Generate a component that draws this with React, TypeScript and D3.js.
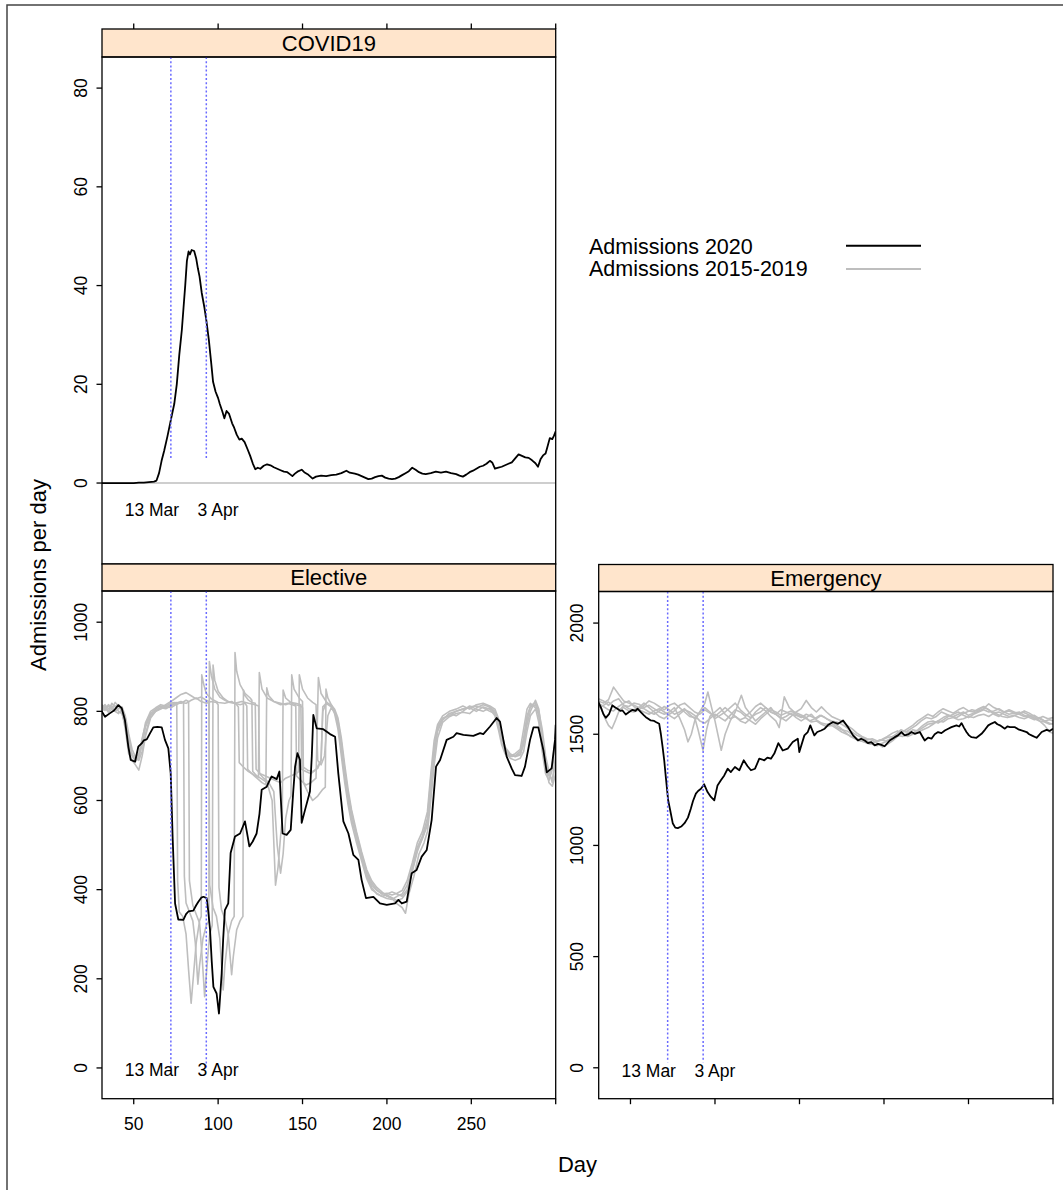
import React from 'react';
import * as d3 from 'd3';

type Pt = [number, number];

// ---------------- DATA ----------------
const xTicks = [50, 100, 150, 200, 250, 300];
const xTickLabels = ['50', '100', '150', '200', '250', ''];
const covidTicks = [0, 20, 40, 60, 80];
const electiveTicks = [0, 200, 400, 600, 800, 1000];
const emergencyTicks = [0, 500, 1000, 1500, 2000];
const lockdownDays = [72, 93];
const lockdownLabels = ['13 Mar', '3 Apr'];
const legendLabels = ['Admissions 2020', 'Admissions 2015-2019'];

const covid2020: Pt[] = [[31,0],[35,0],[40,0],[45,0],[50,0],[53,0.1],[56,0.1],[59,0.2],[62,0.3],[63.5,0.5],[65,2],[66.5,4.5],[68,6.5],[70,9.5],[72,12.8],[74,16],[75.5,20],[77,26],[78.5,31],[79.5,35.5],[80.5,40],[81.5,45],[82.5,46.9],[83.3,46.3],[84.3,47.2],[85.8,47],[87,45.5],[88,43.5],[89,41.8],[90.3,38.5],[91.9,35.5],[93,33],[94.5,29],[96,24],[97,20.5],[98.5,18.5],[100,17.2],[101,16],[102.5,14.5],[103.7,13.1],[105,14.6],[106.5,14],[108.3,12.1],[109.5,11.2],[111,9.8],[112.6,8.8],[114,9],[115.7,8.3],[117.5,6.8],[119,5.5],[120.5,4],[122,2.8],[123.5,3.1],[125,2.9],[127,3.5],[129,3.8],[131,3.6],[133,3.2],[135,2.9],[137,2.6],[139,2.3],[141,2.2],[142.5,1.8],[144,1.4],[145.5,1.9],[147,2.3],[149.5,2.7],[151,2.2],[153,1.8],[155,1.2],[156,0.9],[158,1.3],[161,1.5],[164,1.4],[167,1.6],[170,1.7],[173,2.0],[176,2.5],[178,2.1],[181,1.9],[183,1.7],[185,1.4],[187,1.1],[189,0.8],[191,0.9],[193,1.2],[195,1.4],[197,1.5],[199,1.1],[201,0.9],[203,0.8],[205,0.9],[207,1.2],[209,1.6],[211,2.0],[213,2.4],[215,3.1],[217,2.7],[219,2.2],[221,1.9],[223,1.8],[226,2.0],[229,2.3],[232,2.1],[235,2.3],[238,2.0],[241,1.8],[243,1.5],[245,1.3],[247,1.7],[249,2.2],[251,2.5],[253,2.9],[255,3.3],[257,3.5],[259,3.9],[261,4.5],[262.5,4.1],[264,2.9],[266,3.1],[268,3.3],[270,3.6],[272,3.9],[274,4.2],[276,5.0],[278,5.8],[280,5.5],[282,5.2],[284,5.1],[286,4.6],[288,4.0],[289.5,3.3],[291,4.8],[292.5,5.6],[294,6.0],[295,7.2],[296.5,9.1],[298,8.9],[299,9.6],[300,10.5]];
const covid2015to2019: Pt[] = [[31,0],[300,0]];

const elective2020: Pt[] = [[31,800],[33,788],[36,796],[38.3,802],[40.9,814],[42.9,807],[44.8,780],[46.8,721],[48.2,691],[50.8,687],[52.7,721],[54.7,728],[56,735],[57.7,737],[59.7,751],[61.6,764],[64,765],[66.6,764],[68.5,736],[70.5,717],[71.9,661],[73.1,512],[74.5,369],[76.4,333],[79.4,332],[81,345],[82.4,351],[85.3,353],[87,365],[88.3,373],[90,382],[91.3,384],[93.2,381],[94.2,350],[95.2,310],[96.2,240],[97.2,182],[99.1,167],[100.5,122],[102.1,212],[103,290],[104,354],[106,369],[107.4,482],[110,519],[113,526],[114.5,540],[115.9,553],[117,530],[118.5,497],[120.5,508],[122.8,526],[124.5,570],[125.8,624],[128.8,631],[130.5,645],[131.7,654],[134.7,648],[136.3,665],[137.2,600],[138.2,526],[140.6,523],[143,534],[144.5,620],[145.6,676],[147,706],[148.5,691],[149.5,550],[151.5,579],[154.4,620],[155.5,700],[156.4,792],[158.4,762],[162.3,760],[166.3,749],[169.3,743],[171.2,661],[174.2,553],[177.2,526],[180.1,478],[183.1,467],[185,422],[187.6,381],[192,384],[195.9,369],[199.9,366],[204.8,369],[206.8,377],[208.8,369],[211.7,373],[214.7,437],[217.6,444],[220.6,474],[223.6,489],[226.5,556],[229.1,676],[231.5,691],[235.4,736],[239.4,743],[241.3,751],[245.3,747],[251.2,745],[255.2,751],[257.1,749],[261.1,766],[265,785],[267,777],[269,736],[270.9,699],[273.9,672],[275.9,657],[279.8,655],[281.8,676],[284.8,736],[286.8,764],[289.7,764],[292.7,713],[294.7,663],[297.6,672],[299.6,736],[300,770]];

const elective2015: Pt[] = [[31,810],[33,802],[35,815],[37,808],[39,812],[41,800],[43,795],[45,770],[47,720],[49,700],[51,695],[53,705],[55,740],[57,770],[60,795],[63,805],[66,812],[69,808],[72,815],[75,820],[78,818],[81,825],[82.5,822],[83,420],[85,365],[87,345],[89,325],[90.5,250],[92,160],[93,210],[95,300],[96.5,320],[97,904],[98,870],[100,845],[103,830],[106,822],[110,818],[113,815],[116,818],[117,812],[117.5,670],[120,660],[123,650],[126,640],[128.3,635],[128.8,853],[130,835],[133,822],[137,815],[141,818],[144,815],[146,812],[146.5,655],[149,645],[152,635],[155,640],[158,650],[159.4,876],[161,840],[164,822],[167,812],[169,795],[171,760],[173,700],[175,640],[177,590],[179,550],[182,505],[185,465],[188,425],[191,400],[194,392],[197,385],[200,380],[203,378],[206,385],[209,390],[212,410],[215,450],[218,495],[221,520],[224,560],[226,650],[228,720],[230,765],[233,785],[237,790],[241,800],[245,805],[249,808],[253,800],[257,810],[261,805],[264,790],[266,760],[268,725],[270,705],[273,698],[276,700],[279,705],[281,740],[283,790],[285,810],[288,815],[290,790],[292,720],[294,670],[296,655],[298,680],[300,750]];
const elective2016: Pt[] = [[31,805],[33,812],[35,800],[37,818],[39,810],[41,815],[43,805],[45,785],[47,740],[49,705],[51,690],[53,700],[55,735],[57,775],[60,800],[63,808],[66,815],[69,812],[72,818],[74,820],[75.5,818],[76,420],[77,350],[79,340],[81,300],[82.5,220],[84,145],[85,190],[87,280],[89,330],[90,340],[90.3,882],[91.5,860],[93,840],[96,828],[100,820],[104,818],[108,822],[111,815],[112,810],[112.5,685],[115,675],[118,665],[121,658],[123.9,652],[124.4,887],[126,850],[129,830],[133,822],[137,818],[140,815],[143,820],[146,815],[149,812],[150,808],[150.5,640],[153,620],[156,600],[159,610],[162,625],[163.5,630],[163.9,850],[165,830],[167,815],[169,800],[171,770],[173,715],[175,655],[177,600],[179,560],[182,515],[185,470],[188,430],[191,405],[194,390],[197,385],[200,388],[203,382],[206,375],[209,380],[212,395],[215,440],[218,485],[221,515],[224,545],[226,620],[228,700],[230,755],[233,780],[237,795],[241,790],[245,800],[249,812],[253,805],[257,800],[261,808],[264,795],[266,770],[268,735],[270,710],[273,700],[276,705],[279,715],[281,760],[283,805],[285,818],[288,808],[290,775],[292,710],[294,660],[296,645],[298,670],[300,735]];
const elective2017: Pt[] = [[31,800],[33,808],[35,812],[37,805],[39,820],[41,812],[43,800],[45,760],[47,705],[49,690],[51,680],[53,668],[55,700],[57,745],[60,785],[63,800],[66,808],[69,815],[72,822],[75,830],[78,838],[81,842],[84,835],[87,828],[90,832],[93,825],[94.5,822],[95,410],[97,360],[99,340],[101,290],[103,175],[104,230],[106,300],[108,330],[109.5,340],[110,932],[111,890],[113,860],[116,840],[119,830],[120,825],[120.5,665],[123,655],[126,648],[129,640],[132,600],[134,410],[135.5,450],[137,520],[138,560],[138.5,848],[140,830],[143,820],[146,818],[149,815],[149.5,670],[152,665],[155,660],[158,670],[161,690],[162,800],[164,818],[167,810],[169,800],[171,775],[173,725],[175,665],[177,610],[179,570],[182,525],[185,480],[188,440],[191,415],[194,400],[197,390],[200,392],[203,388],[206,392],[209,398],[212,420],[215,460],[218,505],[221,530],[224,575],[226,660],[228,735],[230,770],[233,790],[237,800],[241,805],[245,812],[249,805],[253,815],[257,818],[261,812],[264,805],[266,785],[268,750],[270,720],[273,705],[276,698],[279,702],[281,725],[283,770],[285,800],[288,825],[290,805],[292,745],[294,690],[296,660],[298,645],[300,700]];
const elective2018: Pt[] = [[31,815],[33,808],[35,798],[37,805],[39,800],[41,806],[43,810],[45,790],[47,750],[49,715],[51,698],[53,690],[55,710],[57,750],[60,790],[63,802],[66,808],[69,806],[72,812],[75,818],[78,822],[79.5,820],[80,430],[81,370],[83,350],[85,330],[86.5,280],[88,188],[89,230],[91,290],[93,320],[94.5,330],[94.8,912],[96,880],[98,850],[101,832],[104,825],[107,820],[110,818],[114,822],[118,818],[122,815],[124,812],[124.5,660],[127,650],[130,640],[133,620],[135,500],[137,437],[138.5,480],[140,560],[142,600],[143.2,610],[143.6,882],[145,850],[148,830],[150,822],[150.5,675],[153,668],[156,665],[159,672],[161,690],[162,810],[164,818],[167,815],[169,805],[171,785],[173,740],[175,680],[177,625],[179,580],[182,530],[185,485],[188,445],[191,420],[194,405],[197,395],[200,385],[203,380],[206,368],[209,360],[211,347],[213,390],[216,430],[219,480],[222,505],[224,530],[226,600],[228,680],[230,740],[233,775],[237,788],[241,795],[245,798],[249,795],[253,808],[257,815],[261,810],[264,800],[266,780],[268,740],[270,712],[273,695],[276,690],[279,695],[281,710],[283,755],[285,790],[288,805],[290,795],[292,740],[294,680],[296,640],[298,632],[300,660]];
const elective2019: Pt[] = [[31,808],[33,815],[35,806],[37,812],[39,800],[41,795],[43,805],[45,780],[47,730],[49,700],[51,688],[53,695],[55,725],[57,765],[60,792],[63,800],[66,805],[69,812],[72,808],[75,815],[78,820],[81,818],[84,825],[87,830],[90,822],[93,818],[96,822],[99,820],[100,815],[100.5,405],[102,355],[104,335],[106,300],[108,209],[109,250],[111,310],[113,330],[114.7,340],[115,848],[116,835],[118,825],[120,820],[122,818],[122.5,670],[125,660],[128,655],[131,650],[134,645],[137,640],[140,650],[143,655],[146,660],[147.7,665],[148.1,882],[150,850],[153,830],[156,820],[158,815],[159,690],[161,680],[163,700],[165,790],[167,808],[169,798],[171,780],[173,730],[175,670],[177,615],[179,575],[182,520],[185,475],[188,435],[191,410],[194,398],[197,392],[200,390],[203,395],[206,390],[209,385],[212,400],[215,445],[218,490],[221,515],[224,550],[226,630],[228,715],[230,760],[233,782],[237,795],[241,800],[245,805],[249,810],[253,812],[257,808],[261,800],[264,795],[266,775],[268,745],[270,715],[273,702],[276,700],[279,710],[281,735],[283,780],[285,812],[288,820],[290,800],[292,760],[294,700],[296,665],[298,640],[300,690]];

const emergency2020: Pt[] = [[31,1645],[32.4,1622],[34,1590],[35.4,1574],[37.4,1592],[39.3,1630],[41,1620],[42.3,1615],[44,1605],[45.3,1607],[47.2,1589],[49.2,1600],[51.2,1610],[53,1605],[54.2,1615],[56.1,1600],[58,1585],[59.1,1577],[60.5,1570],[62,1562],[64,1560],[65,1555],[67,1547],[68,1500],[69,1443],[70,1380],[70.9,1308],[72.3,1203],[73.5,1158],[75,1100],[76.5,1080],[78,1078],[80,1085],[82,1100],[84,1125],[85.7,1165],[87,1200],[88.7,1233],[90,1245],[91.7,1255],[93.6,1275],[95.6,1240],[97.6,1218],[99.6,1203],[101.5,1270],[103.5,1293],[105.5,1315],[107.5,1345],[109.4,1330],[111.8,1353],[114.4,1338],[117,1383],[119.3,1356],[121.3,1338],[123.7,1345],[126.2,1390],[129.2,1383],[131,1395],[133.1,1390],[135.1,1413],[137.5,1460],[140.1,1427],[143,1435],[146,1465],[149,1480],[149.9,1420],[152.9,1495],[154.9,1510],[156.4,1540],[158.8,1495],[160.5,1510],[162.8,1517],[164.9,1525],[166.7,1540],[169.8,1555],[172.8,1547],[175.8,1562],[178.7,1532],[181.7,1495],[184.6,1472],[186.5,1480],[188.6,1472],[190.5,1460],[192.5,1465],[194.5,1450],[196.5,1457],[198.5,1452],[200.4,1446],[203.4,1472],[206.4,1487],[208.3,1495],[210.3,1510],[212.3,1495],[214.3,1499],[216.3,1510],[218.2,1502],[221.2,1510],[222.7,1490],[224.1,1472],[226.1,1485],[228.1,1480],[230,1500],[232,1510],[234,1505],[236,1517],[238,1525],[239.9,1532],[242.9,1540],[244.5,1535],[245.9,1550],[247.3,1530],[248.8,1510],[250.3,1495],[251.8,1487],[254.7,1484],[257.7,1502],[259.7,1520],[261.7,1540],[263.6,1548],[265.6,1555],[267.1,1545],[268.6,1540],[271.5,1525],[273,1535],[274.5,1532],[277.5,1532],[279.5,1522],[281.4,1517],[284.4,1510],[285.9,1500],[287.3,1495],[290.3,1484],[293.3,1510],[296.2,1520],[298,1515],[300,1525]];

const emergency2015: Pt[] = [[31,1650],[34,1640],[37,1655],[40,1712],[43,1680],[46,1650],[49,1640],[52,1630],[55,1620],[58,1615],[61,1600],[64,1590],[67,1605],[70,1625],[73,1610],[76,1590],[79,1600],[82,1615],[85,1590],[88,1570],[91,1600],[94,1620],[97,1600],[100,1570],[103,1585],[106,1600],[109,1620],[112,1640],[115,1610],[118,1590],[121,1575],[124,1590],[127,1600],[130,1620],[133,1600],[136,1590],[139,1610],[142,1600],[145,1590],[148,1585],[151,1575],[154,1590],[157,1580],[160,1570],[163,1585],[166,1570],[169,1560],[172,1555],[175,1545],[178,1530],[181,1510],[184,1495],[187,1485],[190,1475],[193,1480],[196,1470],[199,1478],[202,1490],[205,1505],[208,1515],[211,1500],[214,1490],[217,1500],[220,1510],[223,1520],[226,1530],[229,1545],[232,1560],[235,1575],[238,1585],[241,1580],[244,1590],[247,1600],[250,1585],[253,1595],[256,1605],[259,1615],[262,1637],[265,1620],[268,1610],[271,1600],[274,1605],[277,1595],[280,1590],[283,1580],[286,1585],[289,1570],[292,1560],[295,1555],[298,1545],[300,1550]];
const emergency2016: Pt[] = [[31,1630],[33,1615],[35,1570],[37,1540],[39,1525],[41,1560],[43,1600],[46,1630],[49,1625],[52,1640],[55,1635],[58,1620],[61,1630],[64,1615],[67,1600],[70,1590],[73,1600],[76,1620],[79,1575],[82,1520],[84,1466],[86,1500],[88,1560],[91,1600],[94,1640],[95.8,1690],[98,1620],[100,1560],[103.7,1428],[106,1500],[109,1560],[112,1600],[115.6,1675],[118,1620],[121,1590],[124,1560],[127,1580],[130,1600],[133,1620],[136,1590],[139,1570],[142,1580],[145,1595],[148,1575],[151,1560],[154,1575],[157,1590],[160,1565],[163,1550],[166,1545],[169,1550],[172,1530],[175,1520],[178,1515],[181,1500],[184,1480],[187,1470],[190,1460],[193,1455],[196,1448],[199,1460],[202,1470],[205,1485],[208,1495],[211,1490],[214,1505],[217,1520],[220,1515],[223,1530],[226,1545],[229,1550],[232,1560],[235,1555],[238,1570],[241,1575],[244,1565],[247,1570],[250,1580],[253,1575],[256,1585],[259,1590],[262,1580],[265,1595],[268,1600],[271,1590],[274,1580],[277,1585],[280,1575],[283,1570],[286,1580],[289,1585],[292,1570],[295,1560],[298,1565],[300,1560]];
const emergency2017: Pt[] = [[31,1620],[34,1630],[37,1645],[40,1625],[43,1610],[46,1620],[49,1605],[52,1600],[55,1610],[58,1630],[61,1650],[64,1640],[67,1625],[70,1610],[73,1630],[76,1640],[79,1620],[82,1600],[85,1580],[88,1575],[90,1520],[92.9,1428],[95,1520],[97,1580],[100,1600],[103,1620],[106,1590],[109,1570],[112,1580],[115,1560],[118,1550],[121,1570],[124,1600],[127,1620],[130,1605],[133,1580],[136,1560],[138,1530],[141,1668],[144,1620],[147,1600],[150,1590],[153,1580],[156,1560],[159,1570],[162,1585],[165,1575],[168,1560],[171,1545],[174,1530],[177,1510],[180,1490],[183,1480],[186,1470],[189,1465],[192,1455],[195,1465],[198,1475],[201,1470],[204,1480],[207,1500],[210,1520],[213,1510],[216,1525],[219,1540],[222,1560],[225,1575],[228,1570],[231,1580],[234,1600],[237,1590],[240,1580],[243,1575],[246,1590],[249,1600],[252,1610],[255,1605],[258,1620],[261,1615],[264,1600],[267,1590],[270,1580],[273,1575],[276,1580],[279,1590],[282,1600],[285,1590],[288,1575],[291,1570],[294,1580],[297,1570],[300,1575]];
const emergency2018: Pt[] = [[31,1640],[34,1625],[37,1610],[40,1605],[43,1625],[46,1640],[49,1650],[52,1625],[55,1610],[58,1600],[61,1590],[64,1605],[67,1615],[70,1600],[73,1585],[76,1570],[79,1590],[82,1610],[85,1600],[88,1585],[91,1560],[94,1550],[97,1570],[100,1590],[103,1575],[106,1560],[109,1585],[112,1610],[115,1600],[118,1580],[121,1600],[124,1625],[127,1640],[130,1620],[133,1600],[136,1590],[139,1575],[142,1560],[145,1580],[148,1600],[151,1615],[154,1652],[157,1620],[160,1600],[163,1623],[166,1600],[169,1580],[172,1570],[175,1560],[178,1540],[181,1525],[184,1505],[187,1490],[190,1480],[193,1473],[196,1460],[199,1443],[202,1455],[205,1470],[208,1490],[211,1510],[214,1525],[217,1540],[220,1560],[223,1575],[226,1590],[229,1580],[232,1600],[235,1615],[238,1605],[241,1595],[244,1610],[247,1620],[250,1605],[253,1600],[256,1615],[259,1625],[262,1610],[265,1590],[268,1580],[271,1600],[274,1610],[277,1600],[280,1590],[283,1605],[286,1595],[289,1580],[292,1560],[295,1540],[298,1510],[300,1505]];
const emergency2019: Pt[] = [[31,1660],[34,1650],[37,1630],[40,1650],[43,1660],[46,1630],[49,1615],[52,1610],[55,1620],[58,1640],[61,1620],[64,1600],[67,1580],[70,1570],[73,1590],[76,1605],[79,1630],[82,1640],[85,1620],[88,1600],[91,1590],[94,1610],[97,1595],[100,1580],[103,1600],[106,1620],[109,1600],[112,1580],[115,1565],[118,1575],[121,1560],[124,1545],[127,1570],[130,1590],[133,1610],[136,1600],[139,1585],[142,1595],[145,1605],[148,1590],[151,1580],[154,1570],[157,1555],[160,1560],[163,1545],[166,1535],[169,1540],[172,1525],[175,1510],[178,1500],[181,1490],[184,1475],[187,1478],[190,1470],[193,1460],[196,1468],[199,1475],[202,1485],[205,1490],[208,1500],[211,1515],[214,1510],[217,1505],[220,1520],[223,1540],[226,1555],[229,1560],[232,1550],[235,1565],[238,1580],[241,1590],[244,1600],[247,1585],[250,1575],[253,1590],[256,1600],[259,1610],[262,1600],[265,1605],[268,1615],[271,1600],[274,1590],[277,1595],[280,1600],[283,1585],[286,1575],[289,1565],[292,1575],[295,1560],[298,1550],[300,1545]];

// ---------------- LAYOUT ----------------
const W = 1063;
const H = 1190;
const FONT = '"Liberation Sans", Arial, Helvetica, sans-serif';
const BLUE = '#6a6aff';
const GRAY = '#BEBEBE';
const STRIP = '#FFE5CC';
const xDomain: [number, number] = [31.2, 300];

interface Box { left: number; right: number; stripTop: number; plotTop: number; plotBottom: number; }

interface PanelProps {
  id: string;
  title: string;
  box: Box;
  yDomain: [number, number];
  yTicks: number[];
  black: Pt[];
  grays: Pt[][];
  annotY: number;
  ablineEndY: number;
  topTicks?: boolean;
  bottomTicks?: boolean;
  bottomLabels?: boolean;
}

function Panel(p: PanelProps) {
  const { box } = p;
  const x = d3.scaleLinear().domain(xDomain).range([box.left, box.right]);
  const y = d3.scaleLinear().domain(p.yDomain).range([box.plotBottom, box.plotTop]);
  const line = d3.line<Pt>().x(d => x(d[0])).y(d => y(d[1]));
  const w = box.right - box.left;
  const tick = 5.5;
  return (
    <g>
      <defs>
        <clipPath id={p.id}>
          <rect x={box.left} y={box.plotTop} width={w} height={box.plotBottom - box.plotTop} />
        </clipPath>
      </defs>
      <rect x={box.left} y={box.stripTop} width={w} height={box.plotTop - box.stripTop} fill={STRIP} stroke="#000" strokeWidth={1.3} />
      <text x={box.left + w / 2} y={(box.stripTop + box.plotTop) / 2 + 7.8} textAnchor="middle" fontSize={22} fontFamily={FONT} fill="#000">{p.title}</text>
      <g clipPath={`url(#${p.id})`}>
        {p.grays.map((g, i) => (
          <path key={i} d={line(g) || ''} fill="none" stroke={GRAY} strokeWidth={1.6} strokeLinejoin="round" />
        ))}
        <path d={line(p.black) || ''} fill="none" stroke="#000" strokeWidth={1.8} strokeLinejoin="round" />
        {lockdownDays.map((d, i) => (
          <line key={i} x1={x(d)} x2={x(d)} y1={box.plotTop} y2={y(p.ablineEndY)} stroke={BLUE} strokeWidth={1.5} strokeDasharray="2 2.2" />
        ))}
      </g>
      <text x={x(lockdownDays[0]) + 8.3} y={y(p.annotY)} textAnchor="end" fontSize={17.5} fontFamily={FONT} fill="#000">{lockdownLabels[0]}</text>
      <text x={x(lockdownDays[1]) - 8.7} y={y(p.annotY)} textAnchor="start" fontSize={17.5} fontFamily={FONT} fill="#000">{lockdownLabels[1]}</text>
      <rect x={box.left} y={box.plotTop} width={w} height={box.plotBottom - box.plotTop} fill="none" stroke="#000" strokeWidth={1.3} />
      {p.yTicks.map(t => (
        <g key={t}>
          <line x1={box.left - tick} x2={box.left} y1={y(t)} y2={y(t)} stroke="#000" strokeWidth={1.3} />
          <text transform={`translate(${box.left - 15.5},${y(t)}) rotate(-90)`} textAnchor="middle" fontSize={17.5} fontFamily={FONT} fill="#000">{t}</text>
        </g>
      ))}
      {p.topTicks && xTicks.map(t => (
        <line key={'tt' + t} x1={x(t)} x2={x(t)} y1={box.stripTop - tick} y2={box.stripTop} stroke="#000" strokeWidth={1.3} />
      ))}
      {p.bottomTicks && xTicks.map((t, i) => (
        <g key={'bt' + t}>
          <line x1={x(t)} x2={x(t)} y1={box.plotBottom} y2={box.plotBottom + tick} stroke="#000" strokeWidth={1.3} />
          {p.bottomLabels && (
            <text x={x(t)} y={box.plotBottom + 31} textAnchor="middle" fontSize={17.5} fontFamily={FONT} fill="#000">{xTickLabels[i]}</text>
          )}
        </g>
      ))}
    </g>
  );
}

export default function App() {
  const covidBox: Box = { left: 102, right: 555.7, stripTop: 29, plotTop: 57, plotBottom: 564 };
  const electiveBox: Box = { left: 102, right: 555.7, stripTop: 564, plotTop: 591, plotBottom: 1098.7 };
  const emergencyBox: Box = { left: 598.7, right: 1053, stripTop: 564.5, plotTop: 591.5, plotBottom: 1098.7 };
  return (
    <svg width={W} height={H} viewBox={`0 0 ${W} ${H}`} style={{ position: 'absolute', left: 0, top: 0, display: 'block', background: '#fff' }}>
      <rect x={0} y={0} width={W} height={H} fill="#fff" />
      <rect x={7} y={5} width={1300} height={1400} fill="none" stroke="#444" strokeWidth={1.5} />
      <Panel id="clip-covid" title="COVID19" box={covidBox} yDomain={[-16.4, 86.3]} yTicks={covidTicks}
        black={covid2020} grays={[covid2015to2019]} annotY={-6.6} ablineEndY={4.7} topTicks />
      <Panel id="clip-elective" title="Elective" box={electiveBox} yDomain={[-69, 1070]} yTicks={electiveTicks}
        black={elective2020} grays={[elective2015, elective2016, elective2017, elective2018, elective2019]}
        annotY={-19} ablineEndY={-4} bottomTicks bottomLabels />
      <Panel id="clip-emergency" title="Emergency" box={emergencyBox} yDomain={[-139, 2142]} yTicks={emergencyTicks}
        black={emergency2020} grays={[emergency2015, emergency2016, emergency2017, emergency2018, emergency2019]}
        annotY={-40} ablineEndY={25} bottomTicks />
      <text x={589} y={253.5} fontSize={21.5} fontFamily={FONT} fill="#000">{legendLabels[0]}</text>
      <text x={589} y={276} fontSize={21.5} fontFamily={FONT} fill="#000">{legendLabels[1]}</text>
      <line x1={846} x2={921} y1={245.7} y2={245.7} stroke="#000" strokeWidth={2} />
      <line x1={846} x2={921} y1={269} y2={269} stroke={GRAY} strokeWidth={2} />
      <text transform="translate(46,575) rotate(-90)" textAnchor="middle" fontSize={22} fontFamily={FONT} fill="#000">Admissions per day</text>
      <text x={577.5} y={1172} textAnchor="middle" fontSize={22} fontFamily={FONT} fill="#000">Day</text>
    </svg>
  );
}
